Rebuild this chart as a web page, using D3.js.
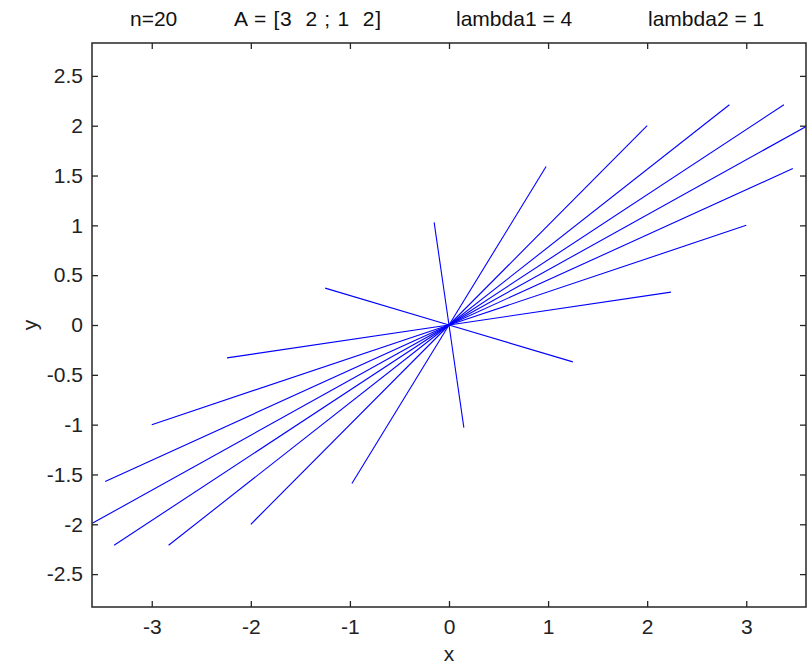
<!DOCTYPE html>
<html>
<head>
<meta charset="utf-8">
<script src="https://cdn.jsdelivr.net/npm/d3@7"></script>
<style>
  body { margin: 0; background: #fff; }
  svg { display: block; font-family: Arial, "Liberation Sans", sans-serif; }
  .title { white-space: pre; }
</style>
</head>
<body>
<div id="chart"></div>
<script>
// line end points (each line runs from the origin to here)
const endX = [3, 3.47, 3.60, 3.38, 2.83, 2, 0.98, -0.15, -1.25, -2.24,
              -3, -3.47, -3.60, -3.38, -2.83, -2, -0.98, 0.15, 1.25, 2.24]
const endY = [1, 1.57, 1.99, 2.21, 2.21, 2, 1.59, 1.03, 0.37, -0.33,
              -1, -1.57, -1.99, -2.21, -2.21, -2, -1.59, -1.03, -0.37, 0.33]

const xTicks = [-3, -2, -1, 0, 1, 2, 3]
const yTicks = [-2.5, -2, -1.5, -1, -0.5, 0, 0.5, 1, 1.5, 2, 2.5]
const titleParts = ["n=20", "A = [3  2 ; 1  2]", "lambda1 = 4", "lambda2 = 1"]
const titleStarts = [130, 234, 456, 648]

const width = 811, height = 666
const margin = { top: 43, right: 5, bottom: 59, left: 92 }

const svg = d3.select("#chart").append("svg")
  .attr("width", width)
  .attr("height", height)

const x = d3.scaleLinear()
  .domain([-3.603, 3.603])
  .range([margin.left, width - margin.right])

const y = d3.scaleLinear()
  .domain([-2.83, 2.83])
  .range([height - margin.bottom, margin.top])

svg.append("clipPath").attr("id", "clip")
  .append("rect")
  .attr("x", margin.left).attr("y", margin.top)
  .attr("width", width - margin.left - margin.right)
  .attr("height", height - margin.top - margin.bottom)

svg.append("g")
  .attr("clip-path", "url(#clip)")
  .selectAll("line")
  .data(endX.map((d, i) => [d, endY[i]]))
  .enter()
  .append("line")
  .attr("x1", x(0)).attr("y1", y(0))
  .attr("x2", d => x(d[0]))
  .attr("y2", d => y(d[1]))
  .attr("stroke", "#0000ff")
  .attr("stroke-width", 1.1)

const axisColor = "#262626"
const fmt = d => String(d)   // plain hyphen minus, like the original
const styleAxis = g => {
  g.select(".domain").remove()
  g.selectAll(".tick line").attr("stroke", axisColor).attr("stroke-width", 1.3)
  g.selectAll(".tick text").attr("fill", "#222").attr("font-size", 21)
    .attr("font-family", "Arial, 'Liberation Sans', sans-serif")
}

svg.append("g")
  .attr("transform", `translate(0,${height - margin.bottom})`)
  .call(d3.axisBottom(x).tickValues(xTicks).tickSizeInner(-6).tickPadding(12).tickFormat(fmt))
  .call(styleAxis)

svg.append("g")
  .attr("transform", `translate(0,${margin.top})`)
  .call(d3.axisTop(x).tickValues(xTicks).tickSizeInner(-6).tickFormat(""))
  .call(styleAxis)

svg.append("g")
  .attr("transform", `translate(${margin.left},0)`)
  .call(d3.axisLeft(y).tickValues(yTicks).tickSizeInner(-6).tickPadding(9).tickFormat(fmt))
  .call(styleAxis)

svg.append("g")
  .attr("transform", `translate(${width - margin.right},0)`)
  .call(d3.axisRight(y).tickValues(yTicks).tickSizeInner(-6).tickFormat(""))
  .call(styleAxis)

// frame
svg.append("rect")
  .attr("x", margin.left).attr("y", margin.top)
  .attr("width", width - margin.left - margin.right)
  .attr("height", height - margin.top - margin.bottom)
  .attr("fill", "none")
  .attr("stroke", axisColor)
  .attr("stroke-width", 1.5)

// title
svg.append("g")
  .selectAll("text")
  .data(titleParts)
  .enter()
  .append("text")
  .attr("class", "title")
  .attr("x", (d, i) => titleStarts[i])
  .attr("y", 26)
  .attr("font-size", 21)
  .attr("fill", "#111")
  .text(d => d)
  .filter((d, i) => i === 1)
  .attr("textLength", 147)
  .attr("lengthAdjust", "spacing")

svg.append("text")
  .attr("x", x(0)).attr("y", 661)
  .attr("text-anchor", "middle")
  .attr("font-size", 21)
  .attr("fill", "#222")
  .text("x")

svg.append("text")
  .attr("transform", `translate(37,${y(0)}) rotate(-90)`)
  .attr("text-anchor", "middle")
  .attr("font-size", 21)
  .attr("fill", "#222")
  .text("y")
</script>
</body>
</html>
